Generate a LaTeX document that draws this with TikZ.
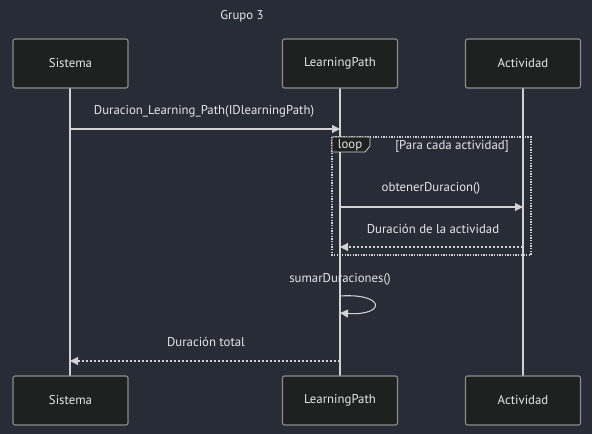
\documentclass[tikz,border=0pt]{standalone}
\usepackage{fontspec}
\setmainfont{PT Sans}
\usetikzlibrary{arrows.meta}
\definecolor{bg}{RGB}{40,44,55}
\definecolor{boxfill}{RGB}{31,32,32}
\definecolor{boxline}{RGB}{140,140,140}
\definecolor{ln}{RGB}{210,210,210}
\definecolor{txt}{RGB}{230,230,230}
\tikzset{
  actor/.style={draw=boxline, fill=boxfill, rounded corners=1.5pt, line width=0.8pt,
    minimum width=115*0.75pt, minimum height=49*0.75pt, text=txt, font=\fontsize{9.6}{11}\selectfont, inner sep=0pt},
  lifeline/.style={draw=ln, line width=0.8pt},
  msg/.style={draw=ln, line width=0.8pt, -{Triangle[length=6pt,width=6pt]}},
  reply/.style={draw=ln, line width=0.8pt, dash pattern=on 1.5pt off 1.5pt, -{Triangle[length=6pt,width=6pt]}},
  lbl/.style={text=txt, font=\fontsize{9.6}{11}\selectfont, inner sep=0pt},
}
\begin{document}
\begin{tikzpicture}[x=0.75pt,y=-0.75pt]
\fill[bg] (0,0) rectangle (592,434);
\useasboundingbox (0,0) rectangle (592,434);
\node[lbl] (title) at (242,16) {Grupo 3};
% lifelines
\draw[lifeline] (70,88) -- (70,376);
\draw[lifeline] (340,88) -- (340,376);
\draw[lifeline] (523,88) -- (523,376);
% actors
\node[actor] (s1) at (70.5,63.5) {Sistema};
\node[actor] (l1) at (340,63.5) {LearningPath};
\node[actor] (a1) at (523,63.5) {Actividad};
\node[actor] (s2) at (70.5,400.5) {Sistema};
\node[actor] (l2) at (340,400.5) {LearningPath};
\node[actor] (a2) at (523,400.5) {Actividad};
% coordinates on lifelines
\coordinate (sA) at (70,129); \coordinate (lA) at (340,129);
\coordinate (lB) at (340,207); \coordinate (aB) at (523,207);
\coordinate (aC) at (523,247); \coordinate (lC) at (340,247);
\coordinate (lD) at (340,296); \coordinate (lE) at (340,313);
\coordinate (lF) at (340,361); \coordinate (sF) at (70,361);
% message 1
\node[lbl] (m1) at (204,111) {Duracion\_Learning\_Path(IDlearningPath)};
\draw[msg] (sA) -- (lA);
% loop frame
\draw[ln, line width=0.8pt, dash pattern=on 1pt off 1pt] (332,137) rectangle (531,255);
\filldraw[draw=ln, fill=boxfill, line width=0.6pt] (332,137) -- (370,137) -- (370,146) -- (365,152) -- (332,152) -- cycle;
\node[lbl] (looplbl) at (350,145) {loop};
\node[lbl] (cond) at (452,146) {[Para cada actividad]};
% message 2
\node[lbl] (m2) at (431,188) {obtenerDuracion()};
\draw[msg] (lB) -- (aB);
% reply
\node[lbl] (m3) at (433,229) {Duración de la actividad};
\draw[reply] (aC) -- (lC);
% self
\node[lbl] (m4) at (340,279) {sumarDuraciones()};
\draw[msg] (lD) .. controls (386,293) and (386,316) .. (lE);
% return
\node[lbl] (m5) at (206,342) {Duración total};
\draw[reply] (lF) -- (sF);
\end{tikzpicture}
\end{document}
